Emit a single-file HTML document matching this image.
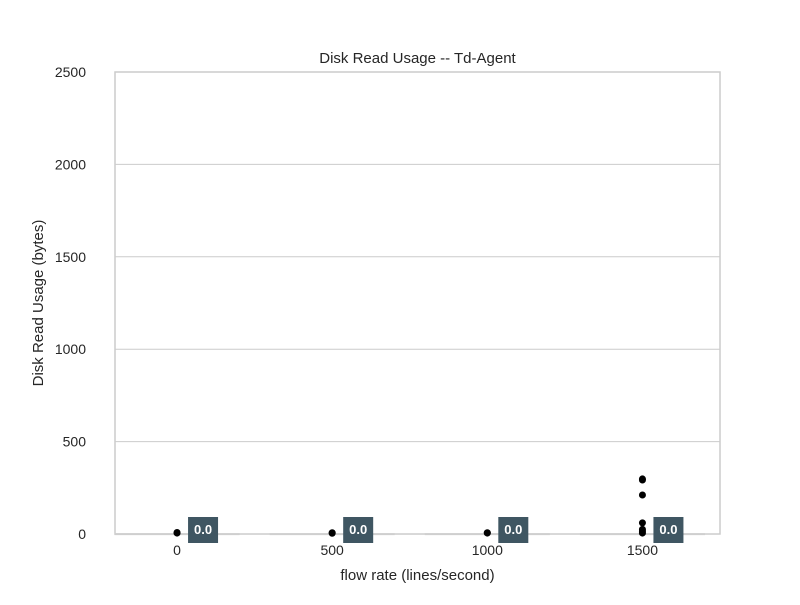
<!DOCTYPE html>
<html><head><meta charset="utf-8"><style>
body{margin:0;background:#fff;font-family:"Liberation Sans",sans-serif}
</style></head><body>
<svg id="c" width="800" height="600" xmlns="http://www.w3.org/2000/svg"></svg>
<script>
const categories=["0","500","1000","1500"];
const medians=[0,0,0,0];
const q1=[0,0,0,0];
const q3=[2,2,2,2];
const outliers=[[5,8],[4,7],[5,7],[298,292,211,60,25,15,5]];
const yTicks=[0,500,1000,1500,2000,2500];
const labels=["0.0","0.0","0.0","0.0"];
const L=115,R=720,T=72,B=534,yMax=2500;
const svg=document.getElementById('c');
const NS="http://www.w3.org/2000/svg";
const y=v=>B-(v/yMax)*(B-T);
const xMin=-0.4,xMax=3.5;
const step=(R-L)/(xMax-xMin);
const x=i=>L+step*(i-xMin);
function mk(tag,attrs,txt){const e=document.createElementNS(NS,tag);for(const k in attrs)e.setAttribute(k,attrs[k]);if(txt!==undefined)e.textContent=txt;svg.appendChild(e);return e;}
yTicks.forEach((t,i)=>{
 const g=mk('line',{x1:L,x2:R,y1:y(t),y2:y(t),stroke:'#cccccc','stroke-width':1});
 
 
 const tx=mk('text',{x:L-29,y:y(t)+5,'text-anchor':'end','font-size':14,fill:'#262626'},t);
 
 
});
const fr=mk('rect',{x:L,y:T,width:R-L,height:B-T,fill:'none',stroke:'#cccccc','stroke-width':1.5});


categories.forEach((c,i)=>{
 const cx=x(i),w=step*0.8;
 const bx=mk('rect',{x:cx-w/2,y:y(q3[i]),width:w,height:Math.max(1,y(q1[i])-y(q3[i])),fill:'#dddddd',stroke:'#cfcfcf'});
 
 
 outliers[i].forEach(v=>{
  const p=mk('ellipse',{cx:cx,cy:y(v),rx:3.5,ry:3.5,fill:'#000'});
  
  
 });
 const lb=mk('rect',{x:cx+11,y:y(medians[i])-17,width:30,height:26,fill:'#3f5662'});
 
 
 const lt=mk('text',{x:cx+26,y:y(medians[i])+0,'text-anchor':'middle','font-size':13,'font-weight':'bold',fill:'#fff'},labels[i]);
 
 
 const xt=mk('text',{x:cx,y:B+21,'text-anchor':'middle','font-size':14,fill:'#262626'},c);
 
 
});
const ti=mk('text',{x:(L+R)/2,y:63,'text-anchor':'middle','font-size':15,fill:'#262626'},'Disk Read Usage -- Td-Agent');


const xl=mk('text',{x:(L+R)/2,y:580,'text-anchor':'middle','font-size':15,fill:'#262626'},'flow rate (lines/second)');


const yl=mk('text',{x:0,y:0,'text-anchor':'middle','font-size':15,fill:'#262626',transform:'translate(43,303) rotate(-90)'},'Disk Read Usage (bytes)');


</script>
</body></html>
